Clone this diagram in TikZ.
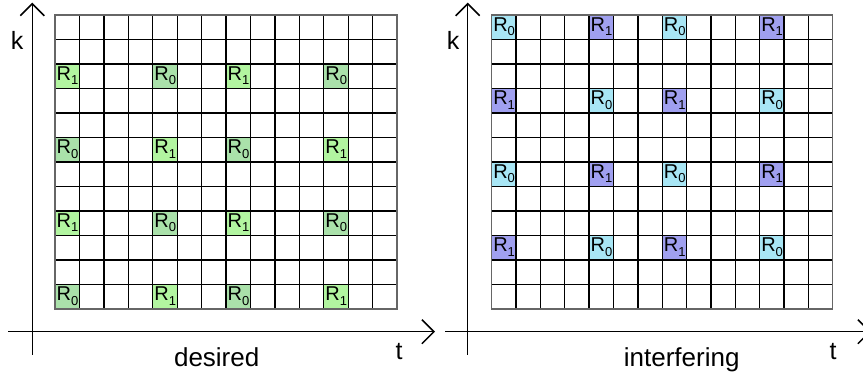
\documentclass[tikz,border=0pt]{standalone}
\usepackage{fontspec}
\setmainfont{Liberation Sans}
\usetikzlibrary{arrows.meta}
\definecolor{gone}{RGB}{178,245,160}
\definecolor{gzero}{RGB}{170,225,170}
\definecolor{czero}{RGB}{168,230,245}
\definecolor{vone}{RGB}{160,160,240}
\newcommand{\rsub}[1]{R\raisebox{-4.5pt}{\fontsize{13}{13}\selectfont #1}}
\begin{document}
\begin{tikzpicture}[x=1pt,y=-1pt,
  inner/.style={line width=1.3pt, black},
  border/.style={line width=1.3pt, black!60},
  axis/.style={line width=1.5pt, -{Straight Barb[length=12pt,width=24pt,line width=1.5pt]}},
  cell/.style={minimum width=24.43pt, minimum height=24.5pt, inner sep=0pt, outer sep=0pt, draw=black!55, line width=0.6pt, anchor=north west},
  rlab/.style={anchor=west, inner sep=0pt, font=\fontsize{20}{20}\selectfont},
  axlab/.style={anchor=base, inner sep=0pt, font=\fontsize{25}{28}\selectfont},
  caption/.style={anchor=base, inner sep=0pt, font=\fontsize{26}{30}\selectfont}]
\clip (0,0) rectangle (863,379);
% ---------- left panel: desired ----------
\foreach \r/\c in {2/4,2/11,5/0,5/7,8/4,8/11,11/0,11/7}
  \node[cell, fill=gzero] (L-\r-\c) at ({55+24.43*\c},{15+24.5*\r}) {};
\foreach \r/\c in {2/0,2/7,5/4,5/11,8/0,8/7,11/4,11/11}
  \node[cell, fill=gone] (L-\r-\c) at ({55+24.43*\c},{15+24.5*\r}) {};
\foreach \c in {1,...,13}
  \draw[inner] ({55+24.43*\c},15) -- ({55+24.43*\c},309);
\foreach \r in {1,...,11}
  \draw[inner] (55,{15+24.5*\r}) -- (397,{15+24.5*\r});
\draw[border] (55,15) rectangle (397,309);
\foreach \r/\c in {2/4,2/11,5/0,5/7,8/4,8/11,11/0,11/7}
  \node[rlab] at ([xshift=1.4pt,yshift=0.5pt]L-\r-\c.west) {\rsub{0}};
\foreach \r/\c in {2/0,2/7,5/4,5/11,8/0,8/7,11/4,11/11}
  \node[rlab] at ([xshift=1.4pt,yshift=0.5pt]L-\r-\c.west) {\rsub{1}};
\coordinate (Lk0) at (32.3,355);
\coordinate (Lk1) at (32.3,2.7);
\coordinate (Lt0) at (8,331.7);
\coordinate (Lt1) at (435,331.7);
\draw[axis] (Lk0) -- (Lk1);
\draw[axis] (Lt0) -- (Lt1);
\node[axlab] (Lk) at (17,50) {k};
\node[axlab] (Lt) at (399,360) {t};
\node[caption] (Lcap) at (216.7,367) {desired};
% ---------- right panel: interfering ----------
\foreach \r/\c in {0/0,0/7,3/4,3/11,6/0,6/7,9/4,9/11}
  \node[cell, fill=czero] (R-\r-\c) at ({491.7+24.36*\c},{15+24.5*\r}) {};
\foreach \r/\c in {0/4,0/11,3/0,3/7,6/4,6/11,9/0,9/7}
  \node[cell, fill=vone] (R-\r-\c) at ({491.7+24.36*\c},{15+24.5*\r}) {};
\foreach \c in {1,...,13}
  \draw[inner] ({491.7+24.36*\c},15) -- ({491.7+24.36*\c},309);
\foreach \r in {1,...,11}
  \draw[inner] (491.7,{15+24.5*\r}) -- (832.7,{15+24.5*\r});
\draw[border] (491.7,15) rectangle (832.7,309);
\foreach \r/\c in {0/0,0/7,3/4,3/11,6/0,6/7,9/4,9/11}
  \node[rlab] at ([xshift=1.4pt,yshift=0.5pt]R-\r-\c.west) {\rsub{0}};
\foreach \r/\c in {0/4,0/11,3/0,3/7,6/4,6/11,9/0,9/7}
  \node[rlab] at ([xshift=1.4pt,yshift=0.5pt]R-\r-\c.west) {\rsub{1}};
\coordinate (Rk0) at (467.7,355);
\coordinate (Rk1) at (467.7,2.7);
\coordinate (Rt0) at (445,331.7);
\coordinate (Rt1) at (871,331.7);
\draw[axis] (Rk0) -- (Rk1);
\draw[axis] (Rt0) -- (Rt1);
\node[axlab] (Rk) at (453,50) {k};
\node[axlab] (Rt) at (833,360) {t};
\node[caption] (Rcap) at (681.7,367) {interfering};
\end{tikzpicture}
\end{document}
